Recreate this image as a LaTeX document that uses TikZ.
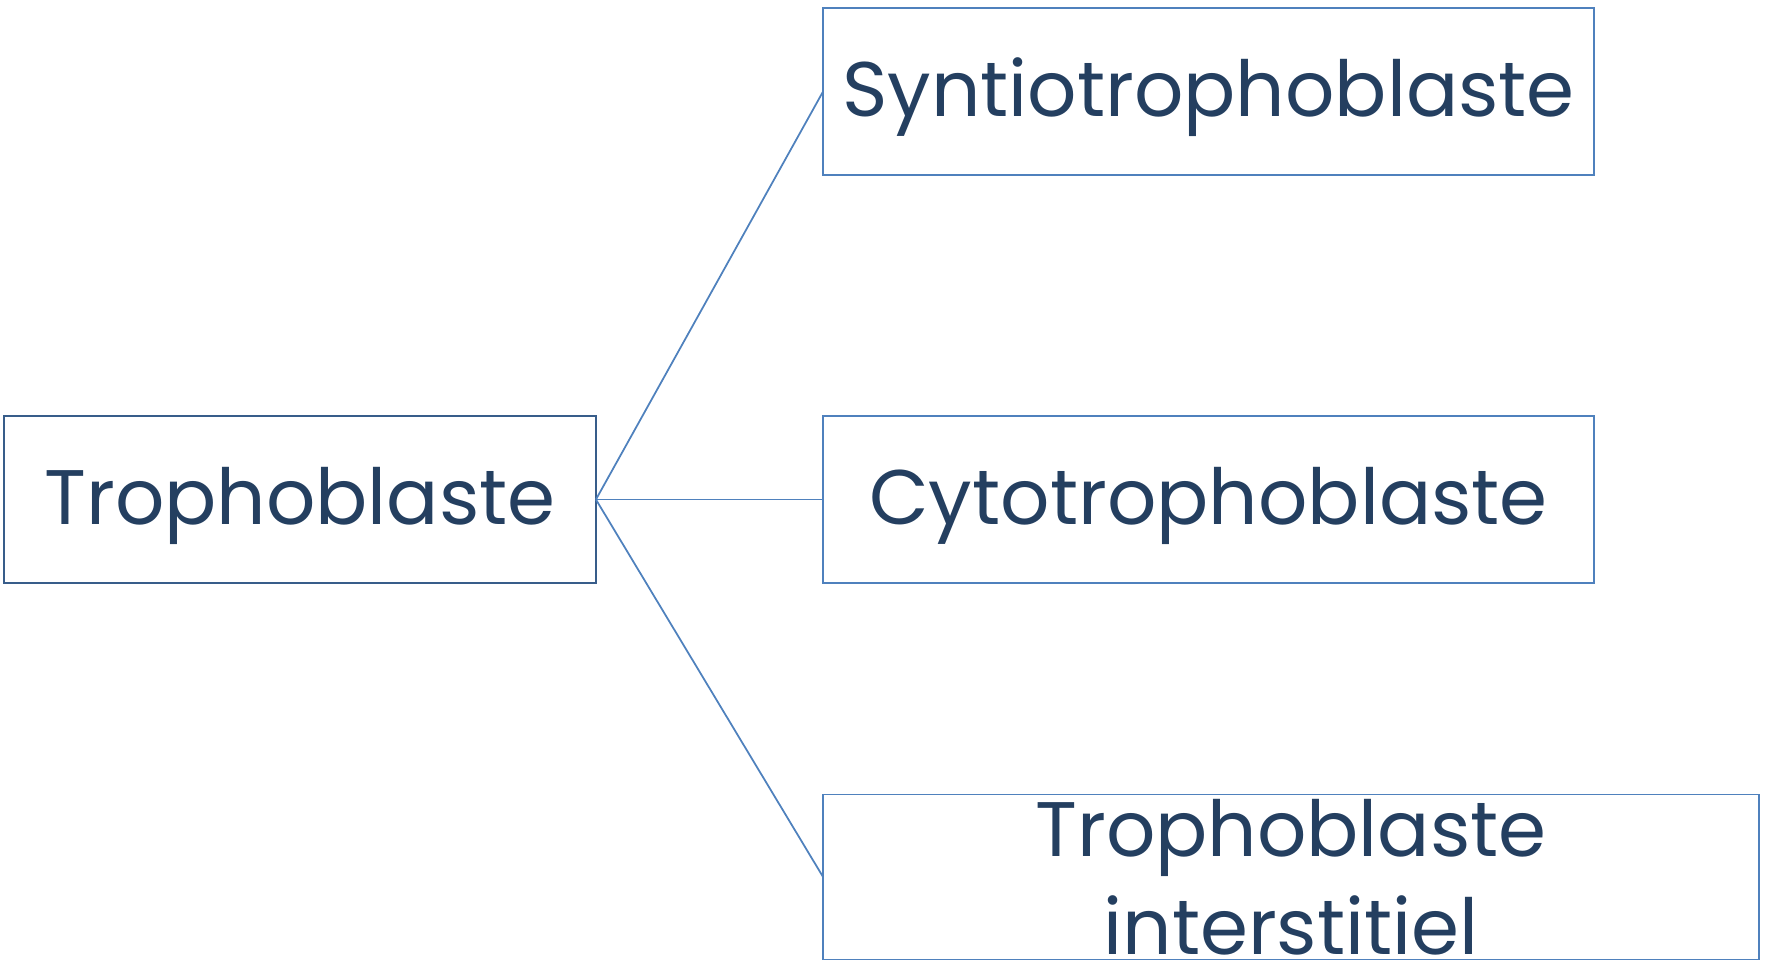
\documentclass[tikz,border=0pt]{standalone}
\usepackage{fontspec}
\setmainfont{Poppins}
\usetikzlibrary{positioning}
\definecolor{boxblue}{HTML}{4F81BD}
\definecolor{darkbox}{HTML}{385D8A}
\definecolor{textnavy}{HTML}{243F60}
\begin{document}
\begin{tikzpicture}[x=0.02cm, y=-0.02cm,
    cellbox/.style={draw=boxblue, line width=1pt, inner sep=0pt, outer sep=0pt,
        text=textnavy, align=center, font=\fontsize{44}{56}\selectfont,
        minimum height=3.33cm},
    oneline/.style={text height=29pt, text depth=0pt}]
    \useasboundingbox (0,0) rectangle (1767,962);

    % Root (left)
    \node[cellbox, oneline, draw=darkbox, minimum width=11.84cm] (tropho) at (300,499.5) {Trophoblaste};

    % Children (right)
    \node[cellbox, oneline, minimum width=15.42cm] (syntio) at (1208.5,91.5) {Syntiotrophoblaste};
    \node[cellbox, oneline, minimum width=15.42cm] (cyto) at (1208.5,499.5) {Cytotrophoblaste};
    \node[cellbox, minimum width=18.72cm, text width=18.72cm, minimum height=3.3cm] (inter) at (1291,877) {Trophoblaste\\interstitiel};

    % Links
    \draw[boxblue, line width=1pt] (tropho.east) -- (syntio.west);
    \draw[boxblue, line width=1pt] (tropho.east) -- (cyto.west);
    \draw[boxblue, line width=1pt] (tropho.east) -- (inter.west);
\end{tikzpicture}
\end{document}
